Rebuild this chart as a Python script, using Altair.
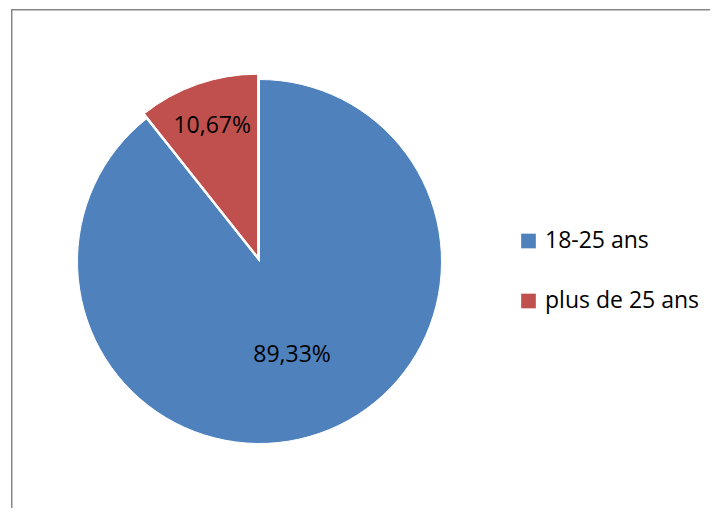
import altair as alt
import pandas as pd

# Data
categories = ["18-25 ans", "plus de 25 ans"]
values = [89.33, 10.67]
labels = ["89,33%", "10,67%"]
colors = ["#4F81BD", "#C0504D"]

df = pd.DataFrame({
    "categorie": categories,
    "valeur": values,
    "etiquette": labels,
    "rang": list(range(len(categories))),
})

W, H = 702, 500
CX, CY = 251.5, 252.5
R = 182
FONT = "Open Sans"

theta_scale = alt.Scale(domain=[0, 100], range=[0, 6.283185307179586])
color = alt.Color(
    "categorie:N",
    scale=alt.Scale(domain=categories, range=colors),
    legend=alt.Legend(
        title=None,
        orient="none",
        legendX=509,
        legendY=220.5,
        symbolType="square",
        symbolSize=215,
        symbolStrokeWidth=0,
        labelFont=FONT,
        labelFontSize=23,
        labelColor="black",
        labelOffset=5,
        rowPadding=36,
        padding=0,
    ),
)

base = (
    alt.Chart(df)
    .transform_window(fin="sum(valeur)", sort=[alt.SortField("rang")], frame=[None, 0])
    .transform_calculate(debut="datum.fin - datum.valeur", milieu="datum.fin - datum.valeur / 2")
)

arc_enc = dict(
    theta=alt.Theta("debut:Q", scale=theta_scale, stack=None),
    theta2="fin:Q",
    color=color,
    x=alt.value(CX),
    y=alt.value(CY),
)

blue = base.transform_filter(alt.datum.rang == 0).mark_arc(
    radius=R, stroke="white", strokeWidth=1
).encode(**arc_enc)

red = base.transform_filter(alt.datum.rang == 1).mark_arc(
    radius=R, stroke="white", strokeWidth=1, xOffset=-1.9, yOffset=-5.3
).encode(**arc_enc)

txt_enc = dict(
    theta=alt.Theta("milieu:Q", scale=theta_scale, stack=None),
    text="etiquette:N",
    x=alt.value(CX),
    y=alt.value(CY),
)

text_blue = base.transform_filter(alt.datum.rang == 0).mark_text(
    radius=99, font=FONT, fontSize=23, color="black", baseline="middle", align="center"
).encode(**txt_enc)

text_red = base.transform_filter(alt.datum.rang == 1).mark_text(
    radius=138, font=FONT, fontSize=23, color="black", baseline="middle", align="center",
    xOffset=-1.9, yOffset=-5.3
).encode(**txt_enc)

one = pd.DataFrame({"k": [0]})
border_left = alt.Chart(one).mark_rule(color="#888888", strokeWidth=1.5).encode(
    x=alt.value(3.75), y=alt.value(0), y2=alt.value(H)
)
border_top = alt.Chart(one).mark_rule(color="#888888", strokeWidth=1.5).encode(
    x=alt.value(3), x2=alt.value(W), y=alt.value(0.75)
)

chart = (
    alt.layer(border_left, border_top, blue, red, text_blue, text_red)
    .properties(
        width=W,
        height=H,
        padding=0,
        autosize=alt.AutoSizeParams(type="fit", contains="padding"),
        background="white",
    )
    .configure_view(stroke=None)
)

chart.save("out.html", embed_options={"renderer": "svg", "actions": False})
